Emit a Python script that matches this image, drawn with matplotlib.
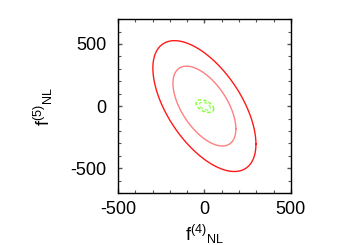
import numpy as np
import matplotlib
matplotlib.use("Agg")
import matplotlib.pyplot as plt
from matplotlib.ticker import MultipleLocator

plt.rcParams['font.family'] = ['Liberation Sans', 'DejaVu Sans']
plt.rcParams['mathtext.fontset'] = 'custom'
plt.rcParams['mathtext.rm'] = 'Liberation Sans'
plt.rcParams['mathtext.it'] = 'Liberation Sans'
plt.rcParams['mathtext.default'] = 'regular'
plt.rcParams['axes.unicode_minus'] = False

# Forecast ellipses: (label, sigma_x, sigma_y, rho, delta_chi2, color, style)
ellipse_names = ["red 95%", "red 68%", "green 95%", "green 68%"]
sigma_x = [120.0, 120.0, 20.5, 20.5]
sigma_y = [212.0, 212.0, 20.5, 20.5]
rho = [-0.58, -0.57, -0.45, -0.45]
dchi2 = [6.17, 2.30, 6.17, 2.30]
colors = ["#ff1a1a", "#ff8080", "#80ff30", "#a0ff70"]
styles = ["-", "-", "--", "--"]
centers_x = [0.0, 0.0, 3.0, 3.0]
centers_y = [0.0, 0.0, 0.0, 0.0]

fig = plt.figure(figsize=(3.5, 2.45), dpi=100)
ax = fig.add_axes([0.337, 0.212, 0.494, 0.710])

t = np.linspace(0, 2 * np.pi, 400)
for sx, sy, r, d, c, ls, cx, cy in zip(sigma_x, sigma_y, rho, dchi2, colors, styles, centers_x, centers_y):
    cov = np.array([[sx**2, r * sx * sy], [r * sx * sy, sy**2]])
    L = np.linalg.cholesky(cov)
    circ = np.vstack([np.cos(t), np.sin(t)]) * np.sqrt(d)
    pts = L @ circ
    ax.plot(pts[0] + cx, pts[1] + cy, color=c, ls=ls, lw=1.0,
            dashes=(2.5, 1.5) if ls == "--" else (None, None))

ax.set_xlim(-500, 500)
ax.set_ylim(-700, 700)
ax.xaxis.set_major_locator(MultipleLocator(500))
ax.yaxis.set_major_locator(MultipleLocator(500))
ax.xaxis.set_minor_locator(MultipleLocator(100))
ax.yaxis.set_minor_locator(MultipleLocator(100))
ax.tick_params(which='both', direction='in', top=True, right=True, labelsize=13)
ax.tick_params(which='major', length=3, width=1.0, color='#555555')
ax.tick_params(which='minor', length=2, width=0.8, color='#555555')
ax.tick_params(axis='x', pad=6)
ax.tick_params(axis='y', pad=8)
for s in ax.spines.values():
    s.set_linewidth(1.0)

ax.set_xlabel('f$^{(4)}$$_{NL}$', fontsize=13, labelpad=3)
ax.set_ylabel('f$^{(5)}$$_{NL}$', fontsize=13, labelpad=11)

fig.savefig("out.png", dpi=100)
